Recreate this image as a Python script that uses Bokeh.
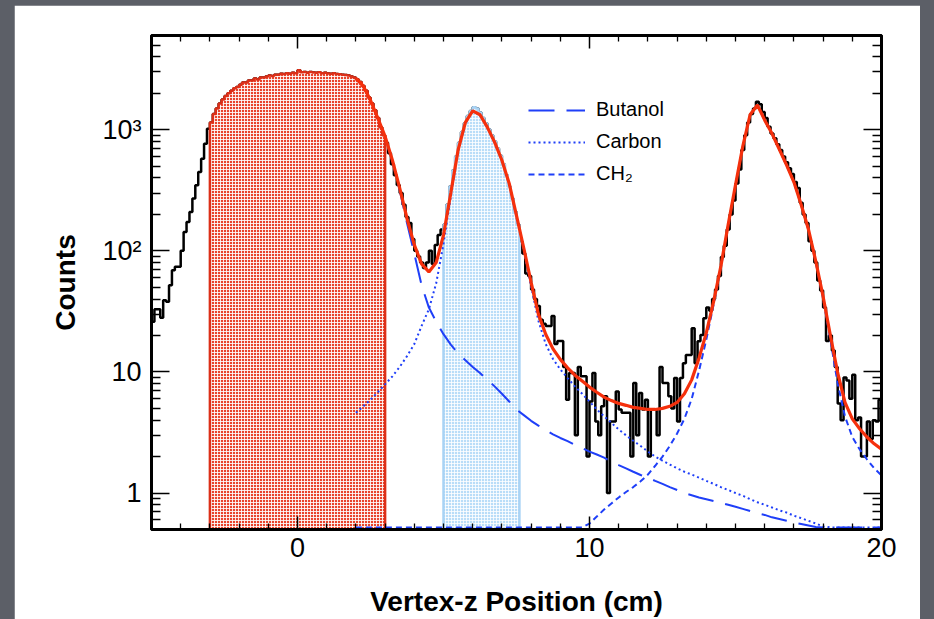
import numpy as np
from bokeh.plotting import figure
from bokeh.models import FixedTicker, LinearAxis, LogAxis, Legend, LegendItem, Range1d
from bokeh.layouts import column
from bokeh.embed import file_html
from bokeh.resources import INLINE

# ---------------- data ----------------
BIN_W = 0.1
bin_edges = np.round(np.linspace(-5.0, 20.0, 251), 2)

counts = (
    # -5.0 .. -3.1
    [26, 33, 33, 28, 39, 38, 52, 69, 74, 74, 100, 143, 173, 209, 270, 348, 448, 577, 767, 1020]
    # -3.0 .. 2.9
    + [1150, 1350, 1500, 1650, 1780, 1900, 2000, 2100, 2200, 2250,
       2350, 2450, 2450, 2550, 2550, 2650, 2600, 2700, 2700, 2750,
       2800, 2780, 2850, 2850, 2900, 2880, 2930, 2900, 2950, 2930,
       3100, 2980, 3000, 2950, 3000, 2970, 2950, 2980, 2930, 2950,
       2920, 2900, 2930, 2880, 2870, 2850, 2830, 2800, 2750, 2700,
       2600, 2480, 2300, 2100, 1850, 1650, 1450, 1250, 1050, 900]
    # 3.0 .. 4.9
    + [780, 640, 520, 420, 350, 300, 240, 190, 170, 125,
       100, 90, 80, 72, 80, 100, 78, 112, 135, 150]
    # 5.0 .. 7.5
    + [165, 240, 340, 460, 600, 780, 960, 1130, 1300, 1430,
       1530, 1500, 1390, 1250, 1130, 1010, 900, 800, 700, 610,
       520, 420, 340, 270, 210, 165]
    # 7.6 .. 7.9
    + [120, 95, 65, 62]
    + [48, 40, 35, 27, 25, 24, 24, 29, 17, 18]            # 8.0
    + [18, 11, 5.9, 9.8, 9.8, 3.0, 11, 9.2, 9.2, 2.0]      # 9.0
    + [5.7, 9.8, 3.9, 3.0, 5.2, 6.3, 1.0, 3.9, 3.9, 6.9]   # 10.0
    + [4.9, 4.6, 4.6, 4.6, 2.0, 8.1, 3.0, 6.7, 4.9, 5.9]   # 11.0
    + [2.0, 4.9, 4.9, 3.0, 11, 8.1, 8.1, 6.3, 5.0, 8.9]    # 12.0
    + [3.9, 8.9, 11.8, 13.8, 13.8, 22.9, 11.8, 17.9, 20.2, 27.7]  # 13.0
    + [34, 32, 40, 48, 62, 89, 110, 150, 200, 260]        # 14.0
    + [360, 470, 680, 900, 1150, 1350, 1500, 1700, 1620, 1400]    # 15.0
    + [1250, 1060, 930, 850, 760, 680, 600, 540, 480, 430]        # 16.0
    + [370, 330, 250, 200, 170, 120, 100, 80, 57, 47]             # 17.0
    + [34, 18, 20, 15, 11, 5.5, 4.0, 9.0, 8.5, 6.0]               # 18.0
    + [9.5, 4.0, 4.2, 2.0, 2.0, 3.9, 2.8, 4.0, 3.9, 5.9]          # 19.0
)

fit_x = np.round(np.linspace(2.0, 20.0, 73), 2)   # step 0.25 cm

fit_total = [2650, 2300, 1750, 1250, 880, 560, 330, 185, 112, 78, 67, 80,
             135, 300, 680, 1150, 1430, 1330, 1050, 790, 560, 360, 195, 105,
             55, 30, 20.5, 15.5, 12.7, 10.8, 9.4, 8.4, 7.5, 6.8, 6.2, 5.8,
             5.5, 5.3, 5.1, 5.0, 4.9, 4.9, 5.0, 5.2, 5.6, 6.6, 8.6, 13,
             21, 38, 75, 165, 350, 730, 1330, 1600, 1200, 930, 690, 510,
             370, 240, 150, 82, 42, 20, 9.8, 5.6, 4.1, 3.4, 2.9, 2.55, 2.3]

fit_butanol = [2640, 2290, 1740, 1240, 870, 548, 317, 170, 95, 52, 34, 26,
               20.5, 16.8, 14.2, 12.5, 11, 9.8, 8.6, 7.6, 6.6, 5.7, 4.9, 4.4,
               3.95, 3.6, 3.3, 3.05, 2.85, 2.68, 2.5, 2.35, 2.2, 2.08, 1.96, 1.82,
               1.7, 1.6, 1.5, 1.41, 1.34, 1.26, 1.19, 1.12, 1.06, 1.0, 0.96, 0.92,
               0.89, 0.86, 0.83, 0.8, 0.77, 0.74, 0.71, 0.68, 0.66, 0.63, 0.61, 0.59,
               0.57, 0.555, 0.54, 0.525, 0.51, 0.495, 0.48, 0.47, 0.46, 0.45, 0.44, 0.43, 0.42]

fit_carbon = [4.6, 5.2, 5.9, 6.8, 7.9, 9.2, 11, 13.5, 17, 24, 33, 54,
              114, 283, 665, 1137, 1419, 1320, 1041, 782, 553, 354, 190, 100,
              51, 26.5, 17, 12.8, 10.5, 8.9, 7.6, 6.6, 5.7, 4.9, 4.3, 3.8,
              3.35, 3.0, 2.7, 2.45, 2.2, 2.0, 1.85, 1.72, 1.6, 1.5, 1.42, 1.34,
              1.26, 1.19, 1.12, 1.06, 1.0, 0.95, 0.89, 0.84, 0.8, 0.76, 0.72, 0.69,
              0.65, 0.62, 0.59, 0.56, 0.53, 0.5, 0.48, 0.46, 0.44, 0.42, 0.4, 0.39, 0.37]

fit_ch2 = [0.02, 0.02, 0.03, 0.03, 0.03, 0.04, 0.04, 0.05, 0.05, 0.06, 0.07, 0.07,
           0.08, 0.09, 0.1, 0.11, 0.12, 0.14, 0.15, 0.17, 0.19, 0.21, 0.23, 0.26,
           0.28, 0.31, 0.34, 0.37, 0.41, 0.44, 0.47, 0.51, 0.56, 0.64, 0.73, 0.82,
           0.92, 1.02, 1.12, 1.25, 1.42, 1.68, 2.0, 2.45, 3.1, 4.1, 6.0, 10.2,
           18.5, 36, 73, 163, 348, 728, 1328, 1598, 1198, 928, 688, 508,
           368, 238, 148, 80, 40.5, 18.5, 8.0, 4.3, 2.9, 2.3, 1.9, 1.6, 1.4]

x_major_ticks = [0, 10, 20]
x_minor_ticks = [v for v in range(-4, 20) if v not in (0, 10)]
y_major_ticks = [1, 10, 100, 1000]
y_tick_labels = {1: "1", 10: "10", 100: "10\u00b2", 1000: "10\u00b3"}
y_minor_ticks = ([0.6, 0.7, 0.8, 0.9] + list(range(2, 10)) + list(range(20, 100, 10))
                 + list(range(200, 1000, 100)) + [2000, 3000, 4000, 5000])

butanol_window = (-3.0, 3.0)
carbon_window = (5.0, 7.6)

# ---------------- figure ----------------
X_MIN, X_MAX = -5.0, 20.0
Y_MIN, Y_MAX = 0.5, 6000.0
FONT = "Liberation Sans"

p = figure(frame_width=730, frame_height=495,
           x_range=Range1d(X_MIN, X_MAX), y_range=Range1d(Y_MIN, Y_MAX),
           y_axis_type="log", output_backend="svg", toolbar_location=None,
           min_border_left=137, min_border_right=39, min_border_top=30, min_border_bottom=89,
           border_fill_color="white", background_fill_color="white",
           outline_line_color="black", outline_line_width=3)
p.grid.visible = False

c = np.asarray(counts, dtype=float)

# black histogram
p.step(bin_edges, np.append(c, c[-1]), mode="after", line_color="black", line_width=2.5)


def region(lo, hi):
    i0 = int(round((lo - X_MIN) / BIN_W))
    i1 = int(round((hi - X_MIN) / BIN_W))
    xe = bin_edges[i0:i1 + 1]
    ce = c[i0:i1]
    xs = np.concatenate([[xe[0]], np.repeat(xe, 2)[1:-1], [xe[-1]]])
    ys = np.concatenate([[Y_MIN], np.repeat(ce, 2), [Y_MIN]])
    return xs, ys


bx, by = region(*butanol_window)
p.patch(bx, by, fill_color="#e8442c", line_color="#dc2f18", line_width=2.5,
        hatch_pattern="cross", hatch_color="white", hatch_alpha=0.85, hatch_scale=3, hatch_weight=1)

cx, cy = region(*carbon_window)
p.patch(cx, cy, fill_color="#b9ddf8", line_color="#a9d3f5", line_width=2.5,
        hatch_pattern="cross", hatch_color="white", hatch_alpha=0.8, hatch_scale=3, hatch_weight=1)

# fit components (values below the frame are drawn on its floor, as in the original)
floor_draw = Y_MIN * 1.04
BLUE = "#1f3ff8"
r_but = p.line(fit_x, np.maximum(fit_butanol, floor_draw), line_color=BLUE, line_width=2,
               line_dash="26 12")
r_car = p.line(fit_x, np.maximum(fit_carbon, floor_draw), line_color=BLUE, line_width=2,
               line_dash="2 3")
r_ch2 = p.line(fit_x, np.maximum(fit_ch2, floor_draw), line_color=BLUE, line_width=2,
               line_dash="6 4")
p.line(fit_x, fit_total, line_color="#f5300c", line_width=3.2)

# ---------------- axes ----------------
xb = p.below[0]
yl = p.left[0]
xb.ticker = FixedTicker(ticks=x_major_ticks, minor_ticks=x_minor_ticks)
yl.ticker = FixedTicker(ticks=y_major_ticks, minor_ticks=y_minor_ticks)
yl.major_label_overrides = y_tick_labels

for ax in (xb, yl):
    ax.axis_line_color = "black"
    ax.axis_line_width = 3
    ax.major_tick_out = 0
    ax.minor_tick_out = 0
    ax.major_tick_line_color = "black"
    ax.minor_tick_line_color = "black"
    ax.major_tick_line_width = 1.5
    ax.minor_tick_line_width = 1.3
    ax.major_label_text_font = FONT
    ax.major_label_text_font_size = "27px"
    ax.major_label_text_color = "black"
    ax.axis_label_text_font = FONT
    ax.axis_label_text_font_size = "28px"
    ax.axis_label_text_font_style = "bold"
    ax.axis_label_text_color = "black"

xb.major_tick_in = 13
xb.minor_tick_in = 6
xb.major_label_standoff = 8
xb.axis_label = "Vertex-z Position (cm)"
xb.axis_label_standoff = 26

yl.major_tick_in = 18
yl.minor_tick_in = 9
yl.major_label_standoff = 10
yl.axis_label = "Counts"
yl.axis_label_standoff = 18

xt = LinearAxis(ticker=FixedTicker(ticks=x_major_ticks, minor_ticks=x_minor_ticks),
                major_label_overrides={v: "" for v in x_major_ticks},
                major_label_text_font_size="0px", major_label_standoff=0,
                axis_line_color="black", axis_line_width=3,
                major_tick_in=13, major_tick_out=0, minor_tick_in=6, minor_tick_out=0,
                major_tick_line_width=1.5, minor_tick_line_width=1.3)
p.add_layout(xt, "above")

yr = LogAxis(ticker=FixedTicker(ticks=y_major_ticks, minor_ticks=y_minor_ticks),
             major_label_overrides={v: "" for v in y_major_ticks},
             major_label_text_font_size="0px", major_label_standoff=0,
             axis_line_color="black", axis_line_width=3,
             major_tick_in=18, major_tick_out=0, minor_tick_in=9, minor_tick_out=0,
             major_tick_line_width=1.5, minor_tick_line_width=1.3)
p.add_layout(yr, "right")

# ---------------- legend ----------------
legend = Legend(items=[LegendItem(label="Butanol", renderers=[r_but]),
                       LegendItem(label="Carbon", renderers=[r_car]),
                       LegendItem(label="CH\u2082", renderers=[r_ch2])],
                location=(377, 344), orientation="vertical",
                glyph_width=57, glyph_height=22, label_height=22, spacing=9,
                label_standoff=11, padding=0, margin=0,
                border_line_color=None, background_fill_alpha=0,
                label_text_font=FONT, label_text_font_size="20px", label_text_color="black")
p.add_layout(legend)

p.margin = (5, 0, 0, 14)
page = column(p, width=934, height=619, styles={"background-color": "#5c5f67"})

open("out.html", "w").write(file_html(page, INLINE))
